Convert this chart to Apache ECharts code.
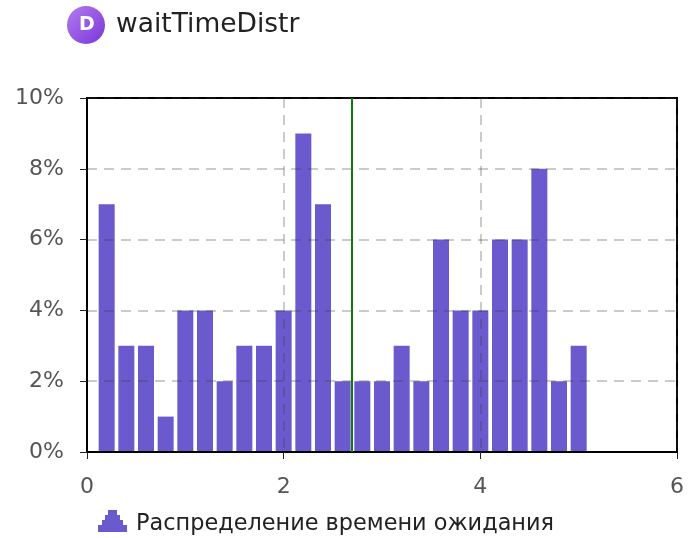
<!DOCTYPE html>
<html><head><meta charset="utf-8">
<style>html,body{margin:0;padding:0;background:#fff}#c{width:688px;height:538px}canvas{filter:blur(0.45px)}</style>
<script src="https://cdn.jsdelivr.net/npm/echarts@6/dist/echarts.min.js"></script></head>
<body><div id="c"></div>
<script>
const titleText = 'waitTimeDistr';
const seriesName = 'Распределение времени ожидания';
const binCenters = [0.2,0.4,0.6,0.8,1.0,1.2,1.4,1.6,1.8,2.0,2.2,2.4,2.6,2.8,3.0,3.2,3.4,3.6,3.8,4.0,4.2,4.4,4.6,4.8,5.0];
const percents = [7,3,3,1,4,4,2,3,3,4,9,7,2,2,2,3,2,6,4,4,6,6,8,2,3];
const meanMarker = 2.69;
const font = 'DejaVu Sans';
const chart = echarts.init(document.getElementById('c'), null, {renderer:'canvas'});
chart.setOption({
  animation:false,
  backgroundColor:'#fff',
  grid:{left:87,top:98,width:590,height:354,show:true,borderColor:'#000',borderWidth:2,backgroundColor:'transparent',containLabel:false},
  legend:{left:93,top:505,itemWidth:29,itemHeight:22,
    icon:'path://M10 0 L19 0 L19 5 L22 5 L22 10 L25 10 L25 15 L29 15 L29 22 L0 22 L0 15 L4 15 L4 10 L7 10 L7 5 L10 5 Z',
    formatter:n=>'{a|'+n+'}',
    textStyle:{rich:{a:{fontFamily:font,fontSize:22.4,color:'#222',padding:[6,0,0,4]}}},
    data:[seriesName]},
  xAxis:{type:'value',min:0,max:6,interval:2,z:5,
    axisLine:{show:true,onZero:false,lineStyle:{color:'#000',width:2}},
    axisTick:{show:true,length:7,inside:false,lineStyle:{color:'#222',width:1}},
    axisLabel:{fontFamily:font,fontSize:22,color:'#555',margin:24,showMinLabel:true,showMaxLabel:true},
    splitLine:{show:true,lineStyle:{color:'rgba(60,60,60,0.35)',type:[10,7],width:1.5}}},
  yAxis:{type:'value',min:0,max:10,interval:2,z:5,
    axisLine:{show:true,lineStyle:{color:'#000',width:2}},
    axisTick:{show:true,length:7,lineStyle:{color:'#222',width:1}},
    axisLabel:{fontFamily:font,fontSize:22,color:'#555',margin:23,formatter:'{value}%'},
    splitLine:{show:true,lineStyle:{color:'rgba(60,60,60,0.35)',type:[10,7],width:1.5}}},
  series:[{name:seriesName,type:'bar',z:2,barWidth:16,
    itemStyle:{color:'#6a5acd'},
    data:binCenters.map((x,i)=>[x,percents[i]]),
    markLine:{silent:true,symbol:'none',z:6,label:{show:false},animation:false,
      lineStyle:{color:'#0a7d0a',width:2,type:'solid'},
      data:[{xAxis:meanMarker}]}}],
  graphic:[
    {type:'circle',z:10,shape:{cx:86,cy:25,r:19},
     style:{fill:new echarts.graphic.LinearGradient(0,0,1,1,[{offset:0,color:'#b47cf0'},{offset:1,color:'#7a35d8'}])}},
    {type:'text',z:11,left:79,top:16,style:{text:'D',fontFamily:font,fontSize:19,fontWeight:'bold',fill:'#fff'}},
    {type:'text',z:11,left:116,top:12,style:{text:titleText,fontFamily:font,fontSize:26.5,fill:'#222'}}
  ]
});
</script></body></html>
